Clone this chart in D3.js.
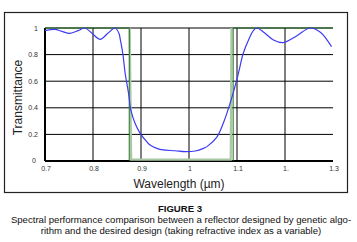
<!DOCTYPE html>
<html>
<head>
<meta charset="utf-8">
<script src="https://d3js.org/d3.v7.min.js"></script>
<style>
  body { margin: 0; background: #fff; font-family: "Liberation Sans", Arial, sans-serif; }
  .tick-label { font-size: 7px; fill: #333; }
  .axis-title { font-size: 12px; fill: #222; }
  .caption { font-size: 9.6px; fill: #111; }
</style>
</head>
<body>
<svg id="chart" width="357" height="242"></svg>
<script>
  // spectral response of the GA-designed reflector (wavelength in µm, transmittance)
  const designWl = [0.700, 0.721, 0.735, 0.752, 0.769, 0.783, 0.798, 0.815, 0.831, 0.846,
    0.854, 0.857, 0.862, 0.867, 0.874, 0.879, 0.888, 0.898, 0.912, 0.919, 0.933, 0.946,
    0.971, 0.992, 1.013, 1.030, 1.038, 1.058, 1.071, 1.079, 1.092, 1.103, 1.113, 1.124,
    1.134, 1.141, 1.155, 1.176, 1.196, 1.224, 1.252, 1.273, 1.297];
  const designT = [0.98, 0.99, 0.975, 0.96, 0.98, 1.0, 0.96, 0.915, 0.96, 1.0,
    0.96, 0.91, 0.81, 0.66, 0.51, 0.38, 0.28, 0.21, 0.145, 0.12, 0.095, 0.083,
    0.077, 0.07, 0.075, 0.095, 0.11, 0.18, 0.28, 0.36, 0.51, 0.66, 0.81, 0.91,
    0.98, 1.0, 0.97, 0.91, 0.89, 0.94, 1.0, 0.97, 0.86];

  // desired (ideal) reflector
  const idealWl = [0.700, 0.8755, 0.8755, 1.0920, 1.0920, 1.300];
  const idealT = [1, 1, 0, 0, 1, 1];
  // desired design as plotted (wide pale trace, stop band only)
  const idealWideWl = [0.8765, 0.8795, 1.0870, 1.0885];
  const idealWideT = [1, 0.01, 0.01, 1];

  const xTicks = [0.7, 0.8, 0.9, 1.0, 1.1, 1.2, 1.3];
  const xTickLabels = ["0.7", "0.8", "0.9", "1", "1.1", "1.", "1.3"];
  const yTicks = [0, 0.2, 0.4, 0.6, 0.8, 1];
  const yTickLabels = ["0", "0.2", "0.4", "0.6", "0.8", "1"];

  const svg = d3.select("#chart");
  const plotLeft = 45, plotRight = 333, plotTop = 28, plotBottom = 161;

  const x = d3.scaleLinear().domain([0.7, 1.3]).range([plotLeft, plotRight]);
  const y = d3.scaleLinear().domain([0, 1]).range([plotBottom, plotTop]);

  // outer frame
  svg.append("rect")
    .attr("x", 4.5).attr("y", 12.5).attr("width", 343).attr("height", 180)
    .attr("fill", "none").attr("stroke", "#222").attr("stroke-width", 1.2);

  // grid
  svg.append("g").selectAll("line")
    .data(yTicks.filter(d => d > 0))
    .join("line")
    .attr("x1", plotLeft).attr("x2", plotRight)
    .attr("y1", d => y(d)).attr("y2", d => y(d))
    .attr("stroke", "#000").attr("stroke-width", 1);

  svg.append("g").selectAll("line")
    .data(xTicks.filter(d => d > 0.7 && d < 1.3))
    .join("line")
    .attr("x1", d => x(d)).attr("x2", d => x(d))
    .attr("y1", plotTop).attr("y2", plotBottom)
    .attr("stroke", "#000").attr("stroke-width", 1);

  // axes lines
  svg.append("line").attr("x1", plotLeft).attr("x2", plotLeft).attr("y1", plotTop).attr("y2", plotBottom)
    .attr("stroke", "#000").attr("stroke-width", 2);
  svg.append("line").attr("x1", plotLeft).attr("x2", plotRight).attr("y1", plotBottom).attr("y2", plotBottom)
    .attr("stroke", "#000").attr("stroke-width", 2);

  // tick labels
  svg.append("g").selectAll("text")
    .data(yTicks)
    .join("text")
    .attr("class", "tick-label")
    .attr("x", d => d === 0 ? 36 : 38)
    .attr("y", d => y(d) + (d === 0 ? 2 : 2.5))
    .attr("text-anchor", "end")
    .text((d, i) => yTickLabels[i]);

  svg.append("g").selectAll("text")
    .data(xTicks)
    .join("text")
    .attr("class", "tick-label")
    .attr("x", d => x(d) + 1)
    .attr("y", 171)
    .attr("text-anchor", "middle")
    .text((d, i) => xTickLabels[i]);

  const line = d3.line().x(d => x(d[0])).y(d => y(d[1]));

  svg.append("path")
    .datum(d3.zip(idealWideWl, idealWideT))
    .attr("d", line)
    .attr("fill", "none")
    .attr("stroke", "#a9c8a3")
    .attr("stroke-width", 2.2);

  svg.append("path")
    .datum(d3.zip(idealWl, idealT).slice(0, 3))
    .attr("d", line)
    .attr("fill", "none")
    .attr("stroke", "#1f6e1f")
    .attr("stroke-width", 1);
  svg.append("path")
    .datum(d3.zip(idealWl, idealT).slice(3))
    .attr("d", line)
    .attr("fill", "none")
    .attr("stroke", "#1f6e1f")
    .attr("stroke-width", 1);

  svg.append("path")
    .datum(d3.zip(designWl, designT))
    .attr("d", line.curve(d3.curveCatmullRom))
    .attr("fill", "none")
    .attr("stroke", "#3b3bf5")
    .attr("stroke-width", 1.2);

  // axis titles
  svg.append("text")
    .attr("class", "axis-title")
    .attr("transform", `translate(22,${(plotTop + plotBottom) / 2 + 3}) rotate(-90)`)
    .attr("text-anchor", "middle")
    .text("Transmittance");

  svg.append("text")
    .attr("class", "axis-title")
    .attr("x", 179).attr("y", 188)
    .attr("text-anchor", "middle")
    .text("Wavelength (µm)");

  // caption
  svg.append("text")
    .attr("class", "caption")
    .attr("x", 180).attr("y", 212)
    .attr("text-anchor", "middle")
    .attr("font-weight", "bold")
    .text("FIGURE 3");
  svg.append("text")
    .attr("class", "caption")
    .attr("x", 181).attr("y", 223)
    .attr("text-anchor", "middle")
    .text("Spectral performance comparison between a reflector designed by genetic algo-");
  svg.append("text")
    .attr("class", "caption")
    .attr("x", 181).attr("y", 234)
    .attr("text-anchor", "middle")
    .text("rithm and the desired design (taking refractive index as a variable)");
</script>
</body>
</html>
